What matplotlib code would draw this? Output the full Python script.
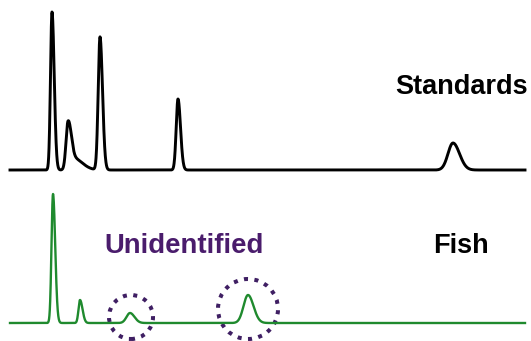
import numpy as np
import matplotlib
matplotlib.use("Agg")
import matplotlib.pyplot as plt
from matplotlib.patches import Circle

# ---- data (retention position, peak height, left width, right width) ----
std_pos = [52, 68, 73, 100, 178, 453]
std_height = [158, 46, 12, 133, 71, 27]
std_wl = [1.5, 2.0, 3.0, 1.8, 1.8, 5.0]
std_wr = [2.2, 3.0, 9.0, 2.5, 2.5, 6.5]

fish_pos = [53, 80, 130, 248]
fish_height = [129, 23, 10, 28]
fish_wl = [1.5, 1.5, 3.5, 4.5]
fish_wr = [2.2, 2.5, 4.5, 5.5]

unidentified_pos = [131, 248]
unidentified_center_y = [24, 32]
unidentified_radius = [22, 30]

labels = ["Standards", "Fish", "Unidentified"]

std_offset = 171
fish_offset = 18

def trace(x, pos, hts, wl, wr):
    y = np.zeros_like(x)
    for p, h, a, b in zip(pos, hts, wl, wr):
        s = np.where(x < p, a, b)
        y += h * np.exp(-0.5 * ((x - p) / s) ** 2)
    return y

x = np.linspace(10, 525, 4000)
y_std = std_offset + trace(x, std_pos, std_height, std_wl, std_wr)
y_fish = fish_offset + trace(x, fish_pos, fish_height, fish_wl, fish_wr)

fig = plt.figure(figsize=(5.31, 3.41), dpi=100)
ax = fig.add_axes([0, 0, 1, 1])
ax.set_xlim(0, 531)
ax.set_ylim(0, 341)
ax.axis("off")

ax.plot(x, y_std, color="black", lw=2.1, solid_joinstyle="round")
ax.plot(x, y_fish, color="#1f8a2e", lw=1.7, solid_joinstyle="round")

for cx, cy, r in zip(unidentified_pos, unidentified_center_y, unidentified_radius):
    c = Circle((cx, cy), r, fill=False, edgecolor="#3f1f63", lw=2.9,
               linestyle=(0, (1, 1.6)))
    ax.add_patch(c)

font = dict(family=["Liberation Sans", "DejaVu Sans"], fontweight="bold")
ax.text(462, 341 - 87, labels[0], fontsize=19.5, color="black",
        ha="center", va="center", **font)
ax.text(461, 341 - 246, labels[1], fontsize=19.5, color="black",
        ha="center", va="center", **font)
ax.text(184, 341 - 246, labels[2], fontsize=19.8, color="#4a1c6c",
        ha="center", va="center", **font)

fig.savefig("out.png", dpi=100)
